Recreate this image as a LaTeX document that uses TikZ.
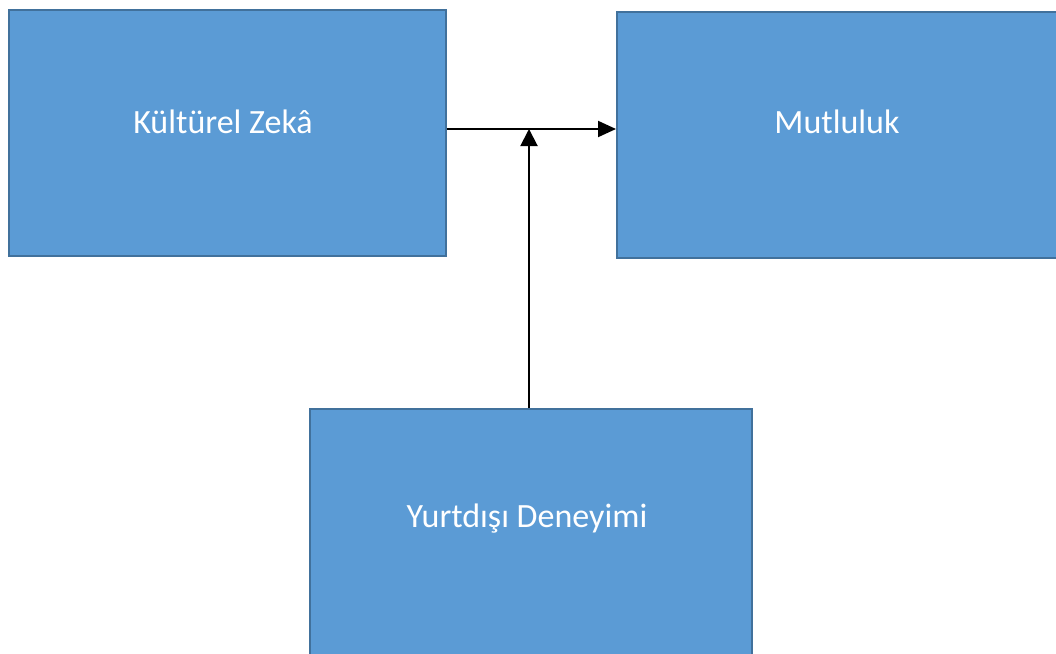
\documentclass[tikz,border=0pt]{standalone}
\usepackage{fontspec}
\setmainfont{Carlito}
\usetikzlibrary{arrows.meta}
\definecolor{boxfill}{HTML}{5B9BD5}
\definecolor{boxline}{HTML}{41719C}
\tikzset{
  blockbox/.style={fill=boxfill, draw=boxline, line width=1.5pt, rectangle, inner sep=0pt, anchor=north west},
  blocklabel/.style={text=white, font=\fontsize{34}{40}\selectfont, inner sep=0pt, anchor=base},
  conn/.style={line width=2pt, draw=black},
}
\begin{document}
\begin{tikzpicture}[x=1pt,y=-1pt]
\useasboundingbox (0,0) rectangle (1056,653);
\fill[white] (0,0) rectangle (1056,653);
% boxes
\node[blockbox, minimum width=437pt, minimum height=246pt] (kzbox) at (8,9) {};
\node[blockbox, minimum width=444pt, minimum height=246pt] (mutbox) at (616,11) {};
\node[blockbox, minimum width=442pt, minimum height=252pt] (ydbox) at (309,408) {};
\coordinate (junc) at (529,129);
\node[blocklabel] (kz) at (223,133) {Kültürel Zekâ};
\node[blocklabel] (mut) at (837,133) {Mutluluk};
\node[blocklabel] (yd) at (527,527) {Yurtdışı Deneyimi};
\draw[conn, -{Triangle[length=18pt,width=16pt]}] (kzbox.east |- junc) -- (mutbox.west |- junc);
\draw[conn, -{Triangle[length=17pt,width=17pt]}] (ydbox.north -| junc) -- (junc);
\end{tikzpicture}
\end{document}
